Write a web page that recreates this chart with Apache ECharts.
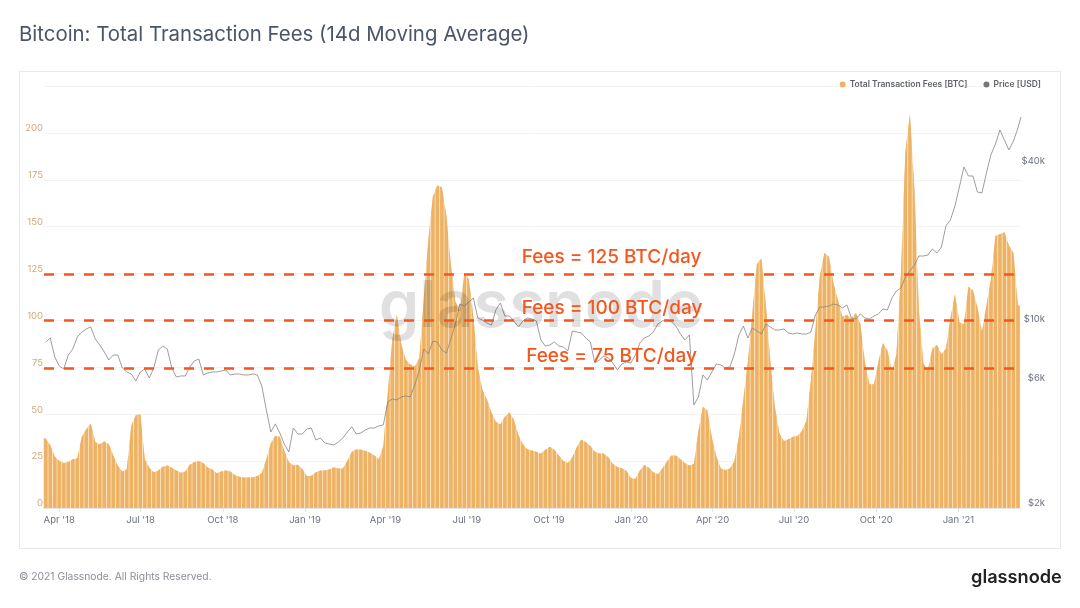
<!DOCTYPE html>
<html>
<head>
<meta charset="utf-8">
<title>Bitcoin: Total Transaction Fees (14d Moving Average)</title>
<script src="https://cdn.jsdelivr.net/npm/echarts@6/dist/echarts.min.js"></script>
<style>
html, body { margin: 0; padding: 0; background: #fff; }
#chart { width: 1080px; height: 608px; }
</style>
</head>
<body>
<div id="chart"></div>
<script>
var firstDate = '2018-03-17';
var lastDate = '2021-03-12';
var axisStart = '2018-03-15';
var stepDays = 5.035;

var fees = [
  37, 33.5, 27.5, 25, 24, 24.5, 26, 26.5, 38, 42, 45, 35, 34, 35.5, 34, 28, 22.5, 19.5, 20.5, 44,
  49.5, 50, 26, 21.5, 19, 20, 22, 22.7, 21.5, 20, 18.8, 19.5, 23, 24.5, 25, 24, 21.5, 20.5, 18.5, 19.5,
  20, 19.5, 17.5, 16.6, 16.3, 16.2, 16.4, 17, 18.7, 26, 34.5, 38.5, 38, 30.5, 24.5, 22.8, 23, 20.8, 17, 17.2,
  19, 20, 20, 20.5, 21.7, 21, 21, 25, 30, 31.2, 31.2, 30.4, 29.5, 28, 26, 33, 62, 90, 103, 87,
  79, 76.5, 75.5, 80, 112, 143, 166, 172, 171, 156, 130, 110, 105.6, 125, 122, 102, 75, 63, 58, 51,
  46, 44.5, 48.7, 51, 47, 39, 34, 31.3, 30.7, 30, 29, 31, 32.7, 31, 28, 25, 24, 27, 32.5, 36.5,
  35, 33, 30, 29, 29, 27, 23.5, 21.8, 21.2, 19.8, 16, 15.5, 20, 23, 21.5, 19, 18, 21, 24.7, 28,
  28, 26, 24, 22.6, 23.5, 41, 54, 52, 37.5, 27.5, 21, 20.3, 21, 25, 38, 58, 78, 104, 130, 133,
  108, 78, 54, 39.8, 35.7, 36.6, 38, 38.4, 41, 46.5, 68, 95, 124, 136, 134, 120, 111, 102, 103, 101,
  104, 98, 78, 66, 66, 78, 88, 84, 73, 82, 125, 190, 210, 170, 105, 77, 73.6, 85, 87, 82,
  85, 101, 114, 99, 98, 118, 116, 107, 94, 108, 122, 145, 146, 147, 140, 136, 108
];

var prices = [
  8544, 8848, 7494, 6927, 6747, 7626, 8037, 8926, 9325, 9573, 9742, 8771, 8323, 7829, 7300, 7626, 7626, 6806, 6573, 6459,
  6076, 6573, 6747, 6236, 6806, 7967, 8250, 8037, 6806, 6292, 6347, 6347, 6867, 7236, 7364, 6403, 6516, 6573, 6573, 6631,
  6689, 6403, 6459, 6459, 6403, 6403, 6459, 6403, 5817, 4718, 3888, 4174, 3854, 3500, 3264, 4027, 3820, 3820, 3992, 4027,
  3625, 3689, 3531, 3500, 3470, 3562, 3689, 3888, 4067, 3820, 3854, 3957, 4027, 4027, 4102, 4138, 5058, 5192, 5147, 5284,
  5330, 5284, 5868, 6689, 8037, 7693, 8619, 8544, 7967, 7761, 8771, 10001, 11912, 11706, 12123, 12555, 10540, 10357, 10089, 9914,
  11303, 12017, 10725, 10725, 10267, 9742, 10267, 10540, 10448, 10267, 8695, 8250, 8323, 8544, 8250, 8178, 7897, 9407, 9325, 9244,
  8848, 8544, 7111, 7300, 7560, 7428, 7111, 6689, 7049, 7173, 7111, 7626, 8470, 8848, 9004, 9325, 10001, 10267, 10357, 10177,
  9827, 9163, 8695, 9083, 4927, 5284, 6403, 6129, 6573, 7049, 6988, 6806, 6867, 7693, 9083, 9827, 8848, 9657, 9407, 9163,
  10001, 9742, 9490, 9490, 9573, 9244, 9163, 9244, 9163, 9163, 9325, 10819, 11604, 11604, 11706, 11912, 11809, 11503, 11809, 10540,
  10448, 10914, 10540, 10448, 10725, 10914, 11403, 11303, 12555, 13350, 13702, 15090, 15900, 16760, 18130, 18130, 18290, 19270, 18610, 19610,
  23570, 24840, 28080, 33150, 39490, 36500, 36500, 31730, 31460, 37450, 43900, 48300, 54570, 50000, 45820, 49560, 55540, 61200
];

var tickDates = ['2018-04-01', '2018-07-01', '2018-10-01', '2019-01-01', '2019-04-01', '2019-07-01',
  '2019-10-01', '2020-01-01', '2020-04-01', '2020-07-01', '2020-10-01', '2021-01-01'];
var tickLabels = ["Apr '18", "Jul '18", "Oct '18", "Jan '19", "Apr '19", "Jul '19",
  "Oct '19", "Jan '20", "Apr '20", "Jul '20", "Oct '20", "Jan '21"];

var priceTicks = [2000, 6000, 10000, 40000];
var priceTickLabels = ['$2k', '$6k', '$10k', '$40k'];

var feeLevels = [124.7, 100.2, 74.5];
var feeLevelLabels = ['Fees = 125 BTC/day', 'Fees = 100 BTC/day', 'Fees = 75 BTC/day'];

var tickTimes = tickDates.map(function(d) { return +new Date(d); });

var feeData = [];
var priceData = [];
var start = +new Date(firstDate);
prices.forEach(function(p, i) {
    var t = start + i * stepDays * 86400000;
    if (i == prices.length - 1) {
        t = +new Date(lastDate);
    }
    priceData.push([t, p]);
    if (i < fees.length) {
        feeData.push([t, fees[i]]);
    }
});

var orange = '#f4561d';
var barColor = '#edb263';
var gapColor = '#f6d3a3';

// bar with a slanted top, so the tops follow the neighbours like the original outline
function renderFeeBar(params, api) {
    var i = params.dataIndex;
    var cur = api.coord(feeData[i]);
    var prev = i > 0 ? api.coord(feeData[i - 1]) : cur;
    var next = i < feeData.length - 1 ? api.coord(feeData[i + 1]) : cur;
    var base = api.coord([feeData[i][0], 0])[1];
    var pitch = i > 0 ? cur[0] - prev[0] : next[0] - cur[0];

    function topAt(dx) {
        var other = dx < 0 ? prev : next;
        if (other === cur) {
            return cur[1];
        }
        return cur[1] + (other[1] - cur[1]) * Math.abs(dx) / pitch;
    }
    function bar(half, color) {
        return {
            type: 'polygon',
            shape: { points: [
                [cur[0] - half, base],
                [cur[0] - half, topAt(-half)],
                [cur[0], cur[1]],
                [cur[0] + half, topAt(half)],
                [cur[0] + half, base]
            ] },
            style: { fill: color }
        };
    }
    return {
        type: 'group',
        children: [bar(pitch / 2, gapColor), bar(1.65, barColor)]
    };
}

var myChart = echarts.init(document.getElementById('chart'));
myChart.setOption({
    animation: false,
    backgroundColor: '#fff',
    textStyle: { fontFamily: 'Inter' },
    grid: { left: 44, right: 59, top: 86, bottom: 100 },
    legend: {
        top: 75,
        right: 34,
        itemWidth: 6,
        itemHeight: 6,
        itemGap: 16,
        textStyle: { fontSize: 8.5, fontWeight: 600, color: '#5f6368', padding: [0, 0, 0, -1] },
        data: [
            { name: 'Total Transaction Fees [BTC]', icon: 'circle' },
            { name: 'Price [USD]', icon: 'circle' }
        ]
    },
    xAxis: {
        // plain value axis on timestamps, time axis breaks with customValues
        type: 'value',
        min: +new Date(axisStart),
        max: +new Date(lastDate),
        axisLine: { lineStyle: { color: '#e6e6e6' } },
        axisTick: { length: 4, lineStyle: { color: '#e2e2e2' }, customValues: tickTimes },
        splitLine: { show: false },
        axisLabel: {
            customValues: tickTimes,
            fontSize: 9.5,
            color: '#6b7280',
            margin: 7,
            hideOverlap: false,
            formatter: function(val) {
                return tickLabels[tickTimes.indexOf(+val)];
            }
        }
    },
    yAxis: [
        {
            type: 'value',
            min: 0,
            max: 225,
            interval: 25,
            axisLine: { show: false },
            axisTick: { show: false },
            splitLine: { lineStyle: { color: '#f3f3f3' } },
            axisLabel: {
                fontSize: 9.5,
                color: '#d2a878',
                margin: 1,
                verticalAlign: 'bottom',
                lineHeight: 9,
                formatter: function(val) {
                    return val == 225 ? '' : val;
                }
            }
        },
        {
            type: 'log',
            position: 'right',
            min: 2000,
            max: 80200,
            axisLine: { show: false },
            axisTick: { show: false },
            splitLine: { show: false },
            axisLabel: {
                customValues: priceTicks,
                fontSize: 9.5,
                color: '#6b7280',
                margin: 24,
                align: 'right',
                verticalAlign: 'bottom',
                lineHeight: 9,
                formatter: function(val) {
                    return priceTickLabels[priceTicks.indexOf(Math.round(val))];
                }
            }
        }
    ],
    series: [
        {
            name: 'Total Transaction Fees [BTC]',
            type: 'custom',
            yAxisIndex: 0,
            renderItem: renderFeeBar,
            encode: { x: 0, y: 1 },
            data: feeData,
            itemStyle: { color: barColor },
            markLine: {
                silent: true,
                symbol: 'none',
                z: 6,
                label: { show: false },
                lineStyle: { color: orange, type: [10, 10], width: 2.5 },
                data: feeLevels.map(function(v) { return { yAxis: v }; })
            }
        },
        {
            name: 'Price [USD]',
            type: 'line',
            yAxisIndex: 1,
            showSymbol: false,
            z: 4,
            data: priceData,
            itemStyle: { color: '#777' },
            lineStyle: { color: '#858585', width: 0.8 }
        }
    ],
    graphic: [
        { type: 'rect', z: -1, shape: { x: 19.5, y: 71.5, width: 1041, height: 477 },
          style: { fill: 'none', stroke: '#e9e9e9', lineWidth: 1 } },
        { type: 'text', x: 19, y: 35, style: { text: 'Bitcoin: Total Transaction Fees (14d Moving Average)',
          font: '400 20.4px Inter', fill: '#4a5568', verticalAlign: 'middle' } },
        { type: 'text', x: 19, y: 577, style: { text: '\u00a9 2021 Glassnode. All Rights Reserved.',
          font: '400 10.3px Inter', fill: '#8a8f98', verticalAlign: 'middle' } },
        { type: 'text', x: 971, y: 578, style: { text: 'glassnode',
          font: '600 18.2px Inter', fill: '#222', verticalAlign: 'middle' } },
        // watermark sits over the bars
        { type: 'text', z: 5, x: 541, y: 307, style: { text: 'glassnode', font: '600 65px Inter',
          fill: '#000', opacity: 0.12, align: 'center', verticalAlign: 'middle' } },
        { type: 'text', z: 10, x: 611.5, y: 257, style: { text: feeLevelLabels[0], font: '500 19px Inter',
          fill: orange, align: 'center', verticalAlign: 'middle' } },
        { type: 'text', z: 10, x: 612, y: 308, style: { text: feeLevelLabels[1], font: '500 19px Inter',
          fill: orange, align: 'center', verticalAlign: 'middle' } },
        { type: 'text', z: 10, x: 611.5, y: 356, style: { text: feeLevelLabels[2], font: '500 19px Inter',
          fill: orange, align: 'center', verticalAlign: 'middle' } }
    ]
});
</script>
</body>
</html>
